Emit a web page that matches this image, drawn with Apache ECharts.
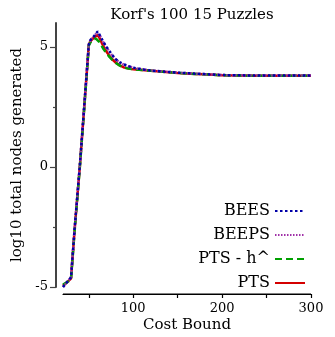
<!DOCTYPE html>
<html>
<head>
<meta charset="utf-8">
<script src="https://cdn.jsdelivr.net/npm/echarts@6/dist/echarts.min.js"></script>
<style>html,body{margin:0;padding:0;background:#fff}#c{width:335px;height:337px}</style>
</head>
<body>
<div id="c"></div>
<script>
var costs = [21, 30, 32, 34, 36, 38, 40, 42, 44, 46, 48, 50, 52, 54, 56, 58, 60, 62, 64, 66, 68, 70, 73, 76, 80, 85, 90, 95, 100, 110, 120, 130, 140, 150, 160, 170, 180, 190, 200, 220, 240, 260, 280, 300];
var bees  = [-5.0, -4.6, -3.6, -2.6, -1.7, -0.8, 0.1, 1.1, 2.1, 3.1, 4.1, 5.1, 5.3, 5.38, 5.45, 5.55, 5.65, 5.52, 5.38, 5.24, 5.12, 5.0, 4.84, 4.68, 4.5, 4.36, 4.27, 4.2, 4.14, 4.07, 4.02, 3.99, 3.96, 3.93, 3.91, 3.89, 3.87, 3.85, 3.83, 3.82, 3.81, 3.81, 3.81, 3.81];
var beeps = [-5.0, -4.6, -3.6, -2.6, -1.7, -0.8, 0.1, 1.1, 2.1, 3.1, 4.1, 5.1, 5.3, 5.38, 5.45, 5.54, 5.6, 5.5, 5.36, 5.22, 5.1, 4.98, 4.82, 4.66, 4.49, 4.35, 4.26, 4.19, 4.13, 4.07, 4.02, 3.99, 3.96, 3.93, 3.91, 3.89, 3.87, 3.85, 3.83, 3.82, 3.81, 3.81, 3.81, 3.81];
var ptsH  = [-4.9, -4.7, -3.7, -2.7, -1.8, -0.9, 0.0, 1.0, 2.0, 3.0, 4.0, 5.05, 5.2, 5.3, 5.35, 5.35, 5.3, 5.2, 5.08, 4.95, 4.84, 4.74, 4.6, 4.48, 4.35, 4.22, 4.14, 4.1, 4.07, 4.04, 4.01, 3.98, 3.95, 3.92, 3.9, 3.88, 3.86, 3.84, 3.82, 3.81, 3.8, 3.8, 3.8, 3.8];
var pts   = [-4.95, -4.65, -3.65, -2.65, -1.75, -0.85, 0.05, 1.05, 2.05, 3.05, 4.05, 5.1, 5.25, 5.33, 5.4, 5.48, 5.5, 5.38, 5.22, 5.06, 4.92, 4.8, 4.64, 4.5, 4.36, 4.23, 4.14, 4.1, 4.07, 4.04, 4.01, 3.98, 3.95, 3.92, 3.9, 3.88, 3.86, 3.84, 3.82, 3.81, 3.8, 3.8, 3.8, 3.8];
var xLabels = [100, 200, 300];
var xTicks = [50, 100, 150, 200, 250, 300];
var yLabels = [-5, 0, 5];
var yMinor = [-2.5, 2.5];

function pairs(v){ return costs.map(function(c,i){ return [c, v[i]]; }); }
var F = 'DejaVu Serif';
var chart = echarts.init(document.getElementById('c'));
chart.setOption({
  animation: false,
  title: { text: "Korf's 100 15 Puzzles", left: 187, top: 3, textAlign: 'center',
    textStyle: { fontFamily: F, fontSize: 15, fontWeight: 'normal', color: '#000' } },
  grid: [
    { left: 63, right: 24, top: 23, bottom: 50, containLabel: false },
    { left: 63, right: 24, top: 284, height: 10, containLabel: false }
  ],
  legend: {
    orient: 'vertical', right: 24, top: 198, align: 'right', itemGap: 8,
    itemWidth: 30, itemHeight: 14,
    data: ['BEES', 'BEEPS', 'PTS - h^', 'PTS'],
    itemStyle: { opacity: 0 },
    textStyle: { fontFamily: F, fontSize: 16, color: '#000', lineHeight: 14 }
  },
  xAxis: [{
    gridIndex: 0, type: 'value', min: 21, max: 300, show: false
  }, {
    gridIndex: 1, type: 'value', min: 21, max: 300, position: 'bottom',
    name: 'Cost Bound', nameLocation: 'middle', nameGap: 24,
    nameTextStyle: { fontFamily: F, fontSize: 15, color: '#000' },
    axisLine: { show: true, onZero: false, lineStyle: { color: '#000', width: 1.2 } },
    axisTick: { show: true, inside: false, length: 4, customValues: xTicks, lineStyle: { color: '#000', width: 1.2 } },
    axisLabel: { customValues: xLabels, fontFamily: F, fontSize: 13, color: '#000', margin: 8 },
    splitLine: { show: false }
  }],
  yAxis: [{
    gridIndex: 0, type: 'value', min: -5, max: 6, offset: 7,
    name: 'log10 total nodes generated', nameLocation: 'middle', nameGap: 25, nameRotate: 90,
    nameTextStyle: { fontFamily: F, fontSize: 15, color: '#000' },
    axisLine: { show: true, onZero: false, lineStyle: { color: '#444', width: 2 } },
    axisTick: { show: true, length: 6, customValues: yLabels, lineStyle: { color: '#444', width: 1.2 } },
    axisLabel: { customValues: yLabels, fontFamily: F, fontSize: 13, color: '#000', margin: 8 },
    splitLine: { show: false }
  }, {
    gridIndex: 0, type: 'value', min: -5, max: 6, offset: 7, position: 'left',
    axisLine: { show: false, onZero: false },
    axisTick: { show: true, length: 3, customValues: yMinor, lineStyle: { color: '#444', width: 1.2 } },
    axisLabel: { show: false },
    splitLine: { show: false }
  }, {
    gridIndex: 1, type: 'value', min: 0, max: 1, show: false
  }],
  series: [
    { name: 'PTS', type: 'line', data: pairs(pts), showSymbol: false, symbol: 'none', z: 1,
      color: '#d40000', lineStyle: { color: '#d40000', width: 2.5, type: 'solid' } },
    { name: 'PTS - h^', type: 'line', data: pairs(ptsH), showSymbol: false, symbol: 'none', z: 2,
      color: '#00a000', lineStyle: { color: '#00a000', width: 2.5, type: [7, 4] } },
    { name: 'BEEPS', type: 'line', data: pairs(beeps), showSymbol: false, symbol: 'none', z: 3,
      color: '#a030a8', lineStyle: { color: '#a030a8', width: 2.5, type: [1.5, 1.5] } },
    { name: 'BEES', type: 'line', data: pairs(bees), showSymbol: false, symbol: 'none', z: 4,
      color: '#0000a8', lineStyle: { color: '#0000a8', width: 2.5, type: [2.5, 2.5] } }
  ]
});

// x-axis baseline, positioned through the library's own scales
var xa = chart.convertToPixel({ xAxisIndex: 1 }, 21);
var xb = chart.convertToPixel({ xAxisIndex: 1 }, 300);
var yb = chart.convertToPixel({ yAxisIndex: 2 }, 0);
chart.setOption({
  graphic: [{
    type: 'line', silent: true, z: 10,
    shape: { x1: xa, y1: yb, x2: xb, y2: yb },
    style: { stroke: '#000', lineWidth: 1.2 }
  }]
});
</script>
</body>
</html>
